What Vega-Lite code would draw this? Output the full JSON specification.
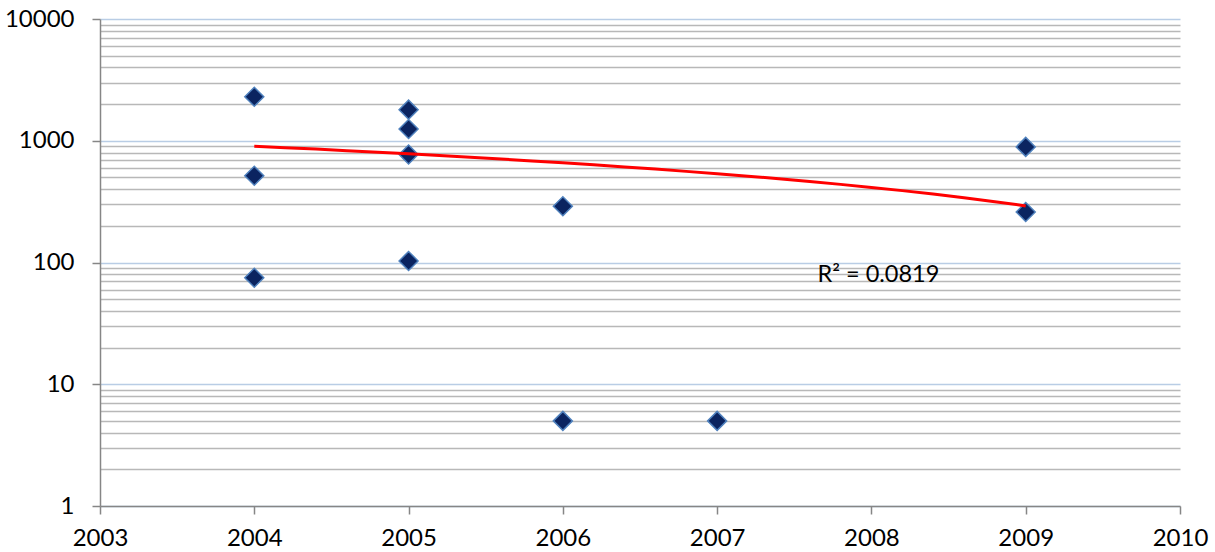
{
  "$schema": "https://vega.github.io/schema/vega-lite/v6.json",
  "autosize": "none",
  "width": 1080,
  "height": 487,
  "padding": {"left": 100, "top": 19, "right": 35, "bottom": 46},
  "background": "white",
  "config": {
    "view": {"stroke": null},
    "font": "Lato",
    "axis": {"labelFont": "Lato", "labelFontSize": 24, "labelColor": "#000000"}
  },
  "data": {
    "values": [
      {"year": 2004, "value": 2300},
      {"year": 2004, "value": 516},
      {"year": 2004, "value": 75},
      {"year": 2005, "value": 1800},
      {"year": 2005, "value": 1250},
      {"year": 2005, "value": 770},
      {"year": 2005, "value": 103},
      {"year": 2006, "value": 290},
      {"year": 2006, "value": 5},
      {"year": 2007, "value": 5},
      {"year": 2009, "value": 890},
      {"year": 2009, "value": 260}
    ]
  },
  "layer": [
    {
      "mark": {"type": "point", "shape": "diamond", "filled": true, "fill": "#0b2460", "stroke": "#4f81bd", "strokeWidth": 1.5, "size": 360, "opacity": 1},
      "encoding": {
        "x": {
          "field": "year", "type": "quantitative",
          "scale": {"domain": [2003, 2010], "nice": false, "zero": false},
          "axis": {
            "title": null, "values": [2003, 2004, 2005, 2006, 2007, 2008, 2009, 2010],
            "format": "d", "grid": false, "domainColor": "#868686", "domainWidth": 1.5,
            "tickColor": "#868686", "tickWidth": 1.5, "tickSize": 8, "labelPadding": 12,
            "labelFlush": false, "labelOverlap": false
          }
        },
        "y": {
          "field": "value", "type": "quantitative",
          "scale": {"type": "log", "domain": [1, 10000], "nice": false},
          "axis": {
            "title": null,
            "values": [1,2,3,4,5,6,7,8,9,10,20,30,40,50,60,70,80,90,100,200,300,400,500,600,700,800,900,1000,2000,3000,4000,5000,6000,7000,8000,9000,10000],
            "labelExpr": "indexof([1,10,100,1000,10000], datum.value) >= 0 ? datum.value : ''",
            "grid": true,
            "gridColor": {"condition": {"test": "indexof([1,10,100,1000,10000], datum.value) >= 0", "value": "#b9cde5"}, "value": "#b8b8b8"},
            "gridWidth": 1.5,
            "tickColor": {"condition": {"test": "indexof([1,10,100,1000,10000], datum.value) >= 0", "value": "#868686"}, "value": "transparent"},
            "tickWidth": 1.5, "tickSize": 8,
            "domainColor": "#868686", "domainWidth": 1.5,
            "labelPadding": 18, "labelFlush": false, "labelOverlap": false
          }
        }
      }
    },
    {
      "transform": [{"regression": "value", "on": "year", "method": "poly", "order": 1}],
      "mark": {"type": "line", "color": "#ff0000", "strokeWidth": 3},
      "encoding": {
        "x": {"field": "year", "type": "quantitative"},
        "y": {"field": "value", "type": "quantitative"}
      }
    },
    {
      "data": {"values": [{"year": 2007.65, "value": 79, "label": "R² = 0.0819"}]},
      "mark": {"type": "text", "align": "left", "baseline": "middle", "fontSize": 23.5, "font": "Lato", "color": "#000000"},
      "encoding": {
        "x": {"field": "year", "type": "quantitative"},
        "y": {"field": "value", "type": "quantitative"},
        "text": {"field": "label"}
      }
    }
  ]
}
